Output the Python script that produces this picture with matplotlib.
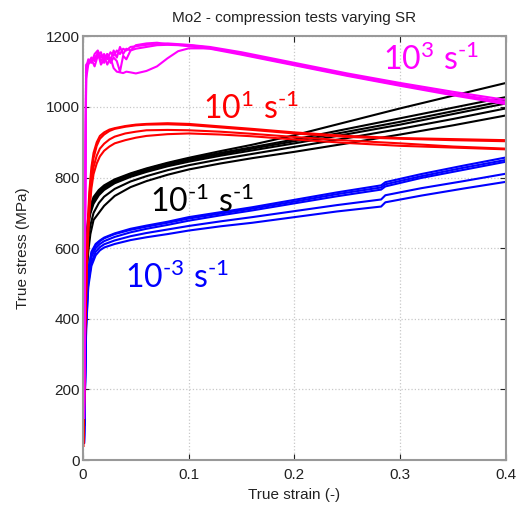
import matplotlib.pyplot as plt

plt.rcParams['font.family'] = ['Liberation Sans', 'DejaVu Sans']
plt.rcParams['mathtext.fontset'] = 'custom'
plt.rcParams['mathtext.rm'] = 'Lato'
plt.rcParams['mathtext.it'] = 'Lato'

# magenta, 10^3 s^-1
mag_strain = [0.001, 0.002, 0.003, 0.005, 0.008, 0.011, 0.014, 0.017, 0.02, 0.023, 0.026, 0.029, 0.032, 0.035,
              0.038, 0.041, 0.045, 0.05, 0.06, 0.07, 0.08, 0.09, 0.1, 0.12, 0.15, 0.2, 0.25, 0.3, 0.35, 0.4]
mag_1 = [120, 700, 1100, 1130, 1125, 1150, 1160, 1140, 1150, 1135, 1155, 1145, 1160, 1150, 1165, 1160, 1170,
         1172, 1176, 1178, 1180, 1178, 1176, 1170, 1155, 1125, 1095, 1068, 1043, 1020]
mag_2 = [120, 650, 1080, 1120, 1135, 1115, 1145, 1155, 1125, 1150, 1130, 1160, 1140, 1170, 1150, 1165, 1160,
         1175, 1180, 1182, 1178, 1176, 1175, 1168, 1150, 1120, 1090, 1062, 1036, 1012]
mag_3 = [120, 680, 1110, 1135, 1128, 1140, 1150, 1130, 1145, 1120, 1140, 1110, 1100, 1098, 1096, 1100, 1098,
         1095, 1102, 1115, 1138, 1158, 1166, 1166, 1152, 1122, 1092, 1064, 1038, 1014]
mag_4 = [120, 720, 1120, 1125, 1140, 1130, 1155, 1120, 1135, 1150, 1125, 1140, 1130, 1100, 1145, 1135, 1160,
         1165, 1170, 1175, 1176, 1175, 1172, 1165, 1148, 1118, 1088, 1060, 1033, 1008]

# red, 10^1 s^-1
red_strain = [0.0005, 0.002, 0.004, 0.006, 0.008, 0.01, 0.013, 0.016, 0.02, 0.025, 0.03, 0.04, 0.05, 0.06,
              0.08, 0.1, 0.13, 0.16, 0.2, 0.25, 0.3, 0.35, 0.4]
red_1 = [50, 400, 640, 760, 830, 870, 900, 918, 928, 936, 940, 946, 950, 952, 954, 952, 945, 938, 928, 918,
         912, 909, 906]
red_2 = [60, 380, 620, 740, 810, 855, 890, 910, 922, 932, 938, 944, 948, 950, 951, 949, 942, 935, 925, 915,
         910, 906, 903]
red_3 = [50, 350, 580, 700, 770, 810, 840, 860, 876, 888, 897, 906, 913, 918, 923, 925, 922, 917, 908, 898,
         890, 885, 880]
red_4 = [40, 360, 600, 720, 790, 830, 862, 882, 896, 908, 916, 925, 930, 934, 935, 934, 930, 924, 915, 905,
         897, 888, 882]

# black, 10^-1 s^-1
blk_strain = [0.001, 0.002, 0.003, 0.005, 0.007, 0.01, 0.015, 0.02, 0.03, 0.045, 0.06, 0.08, 0.1, 0.13, 0.16,
              0.2, 0.25, 0.3, 0.35, 0.4]
blk_1 = [100, 520, 620, 690, 720, 745, 765, 778, 795, 812, 826, 842, 856, 875, 893, 920, 958, 996, 1032, 1068]
blk_2 = [100, 500, 610, 680, 712, 738, 760, 774, 792, 810, 824, 840, 853, 870, 886, 908, 938, 968, 998, 1028]
blk_3 = [100, 480, 600, 675, 705, 732, 755, 770, 788, 806, 820, 836, 849, 866, 882, 903, 930, 958, 988, 1018]
blk_4 = [100, 470, 590, 665, 698, 726, 750, 765, 784, 802, 816, 832, 845, 862, 877, 897, 923, 950, 980, 1010]
blk_5 = [100, 450, 560, 630, 665, 700, 728, 746, 768, 789, 804, 821, 835, 852, 867, 887, 912, 938, 966, 996]
blk_6 = [100, 400, 500, 590, 640, 680, 700, 720, 748, 773, 790, 808, 823, 840, 855, 873, 897, 922, 948, 976]

# blue, 10^-3 s^-1
blu_strain = [0.001, 0.003, 0.005, 0.008, 0.012, 0.016, 0.02, 0.03, 0.045, 0.06, 0.08, 0.1, 0.13, 0.16, 0.2,
              0.24, 0.282, 0.286, 0.32, 0.36, 0.4]
blu_1 = [50, 420, 540, 590, 612, 622, 630, 642, 655, 664, 675, 688, 702, 716, 737, 758, 778, 787, 810, 834, 857]
blu_2 = [50, 410, 530, 585, 608, 620, 628, 640, 652, 661, 672, 684, 698, 712, 732, 753, 772, 781, 804, 828, 850]
blu_3 = [50, 400, 520, 575, 600, 612, 620, 632, 645, 655, 666, 678, 693, 707, 727, 747, 766, 775, 799, 822, 845]
blu_4 = [50, 380, 500, 560, 590, 603, 611, 622, 634, 643, 653, 663, 676, 688, 705, 722, 738, 750, 770, 790, 811]
blu_5 = [50, 370, 490, 550, 580, 594, 602, 612, 623, 631, 640, 650, 662, 672, 688, 704, 718, 730, 749, 769, 788]

groups = [
    (blk_strain, [blk_1, blk_2, blk_3, blk_4, blk_5, blk_6], 'black'),
    (blu_strain, [blu_1, blu_2, blu_3, blu_4, blu_5], '#0000ff'),
    (red_strain, [red_1, red_2, red_3, red_4], '#ff0000'),
    (mag_strain, [mag_1, mag_2, mag_3, mag_4], '#ff00ff'),
]

fig = plt.figure(figsize=(5.17, 5.05), dpi=100)
ax = fig.add_axes([0.1605, 0.089, 0.818, 0.839])

for strain, curves, col in groups:
    for c in curves:
        ax.plot(strain, c, color=col, lw=1.5)

ax.set_xlim(0, 0.4)
ax.set_ylim(0, 1200)
ax.set_xticks([0, 0.1, 0.2, 0.3, 0.4])
ax.set_xticklabels(['0', '0.1', '0.2', '0.3', '0.4'])
ax.set_yticks(range(0, 1201, 200))
ax.grid(True, ls=':', color='#c8c8c8', lw=0.9)
ax.tick_params(direction='in', top=True, right=True, length=4, labelsize=11, colors='#222222', pad=2)
ax.tick_params(axis='x', pad=6)
for s in ax.spines.values():
    s.set_color('#999999')
    s.set_linewidth(1.5)

ax.set_title('Mo2 - compression tests varying SR', fontsize=11, color='#222222', pad=10)
ax.set_xlabel('True strain (-)', fontsize=11, color='#222222', labelpad=4)
ax.set_ylabel('True stress (MPa)', fontsize=11, color='#222222', labelpad=12)

# rate labels, hyphen instead of minus sign as in the original
lbl = dict(fontsize=23)
ax.text(0.284, 1104, '$\\mathrm{10^{3}\\ s^{\u2010 1}}$', color='#ff00ff', **lbl)
ax.text(0.1135, 966, '$\\mathrm{10^{1}\\ s^{\u2010 1}}$', color='#ff0000', **lbl)
ax.text(0.0634, 702, '$\\mathrm{10^{\u2010 1}\\ s^{\u2010 1}}$', color='black', **lbl)
ax.text(0.0397, 487, '$\\mathrm{10^{\u2010 3}\\ s^{\u2010 1}}$', color='#0000ff', **lbl)

fig.savefig('out.png', dpi=100)
